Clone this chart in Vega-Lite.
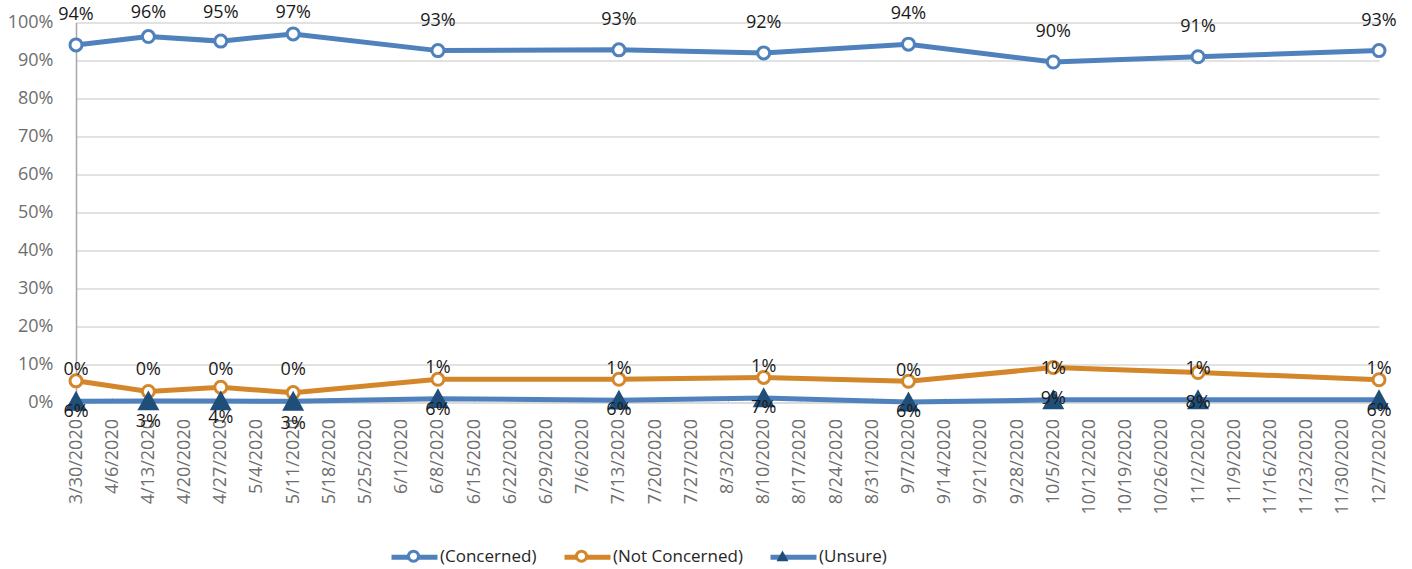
{
  "$schema": "https://vega.github.io/schema/vega-lite/v6.json",
  "width": 1303,
  "height": 380,
  "autosize": {"type": "none"},
  "padding": {"left": 76, "top": 22.5, "right": 33, "bottom": 166.5},
  "config": {
    "font": "Open Sans",
    "view": {"stroke": null}
  },
  "data": {
    "values": [
      {"date": "3/30/2020", "series": "Concerned", "value": 0.941},
      {"date": "4/13/2020", "series": "Concerned", "value": 0.963},
      {"date": "4/27/2020", "series": "Concerned", "value": 0.951},
      {"date": "5/11/2020", "series": "Concerned", "value": 0.970},
      {"date": "6/8/2020", "series": "Concerned", "value": 0.926},
      {"date": "7/13/2020", "series": "Concerned", "value": 0.928},
      {"date": "8/10/2020", "series": "Concerned", "value": 0.920},
      {"date": "9/7/2020", "series": "Concerned", "value": 0.943},
      {"date": "10/5/2020", "series": "Concerned", "value": 0.896},
      {"date": "11/2/2020", "series": "Concerned", "value": 0.910},
      {"date": "12/7/2020", "series": "Concerned", "value": 0.926},
      {"date": "3/30/2020", "series": "Not Concerned", "value": 0.057},
      {"date": "4/13/2020", "series": "Not Concerned", "value": 0.029},
      {"date": "4/27/2020", "series": "Not Concerned", "value": 0.040},
      {"date": "5/11/2020", "series": "Not Concerned", "value": 0.026},
      {"date": "6/8/2020", "series": "Not Concerned", "value": 0.061},
      {"date": "7/13/2020", "series": "Not Concerned", "value": 0.061},
      {"date": "8/10/2020", "series": "Not Concerned", "value": 0.066},
      {"date": "9/7/2020", "series": "Not Concerned", "value": 0.056},
      {"date": "10/5/2020", "series": "Not Concerned", "value": 0.092},
      {"date": "11/2/2020", "series": "Not Concerned", "value": 0.079},
      {"date": "12/7/2020", "series": "Not Concerned", "value": 0.060},
      {"date": "3/30/2020", "series": "Unsure", "value": 0.003},
      {"date": "4/13/2020", "series": "Unsure", "value": 0.004},
      {"date": "4/27/2020", "series": "Unsure", "value": 0.004},
      {"date": "5/11/2020", "series": "Unsure", "value": 0.003},
      {"date": "6/8/2020", "series": "Unsure", "value": 0.010},
      {"date": "7/13/2020", "series": "Unsure", "value": 0.006},
      {"date": "8/10/2020", "series": "Unsure", "value": 0.012},
      {"date": "9/7/2020", "series": "Unsure", "value": 0.001},
      {"date": "10/5/2020", "series": "Unsure", "value": 0.007},
      {"date": "11/2/2020", "series": "Unsure", "value": 0.007},
      {"date": "12/7/2020", "series": "Unsure", "value": 0.007}
    ]
  },
  "encoding": {
    "x": {
      "field": "date",
      "type": "nominal",
      "sort": ["3/30/2020","4/6/2020","4/13/2020","4/20/2020","4/27/2020","5/4/2020","5/11/2020","5/18/2020","5/25/2020","6/1/2020","6/8/2020","6/15/2020","6/22/2020","6/29/2020","7/6/2020","7/13/2020","7/20/2020","7/27/2020","8/3/2020","8/10/2020","8/17/2020","8/24/2020","8/31/2020","9/7/2020","9/14/2020","9/21/2020","9/28/2020","10/5/2020","10/12/2020","10/19/2020","10/26/2020","11/2/2020","11/9/2020","11/16/2020","11/23/2020","11/30/2020","12/7/2020"],
      "scale": {
        "type": "point",
        "padding": 0,
        "domain": ["3/30/2020","4/6/2020","4/13/2020","4/20/2020","4/27/2020","5/4/2020","5/11/2020","5/18/2020","5/25/2020","6/1/2020","6/8/2020","6/15/2020","6/22/2020","6/29/2020","7/6/2020","7/13/2020","7/20/2020","7/27/2020","8/3/2020","8/10/2020","8/17/2020","8/24/2020","8/31/2020","9/7/2020","9/14/2020","9/21/2020","9/28/2020","10/5/2020","10/12/2020","10/19/2020","10/26/2020","11/2/2020","11/9/2020","11/16/2020","11/23/2020","11/30/2020","12/7/2020"]
      },
      "axis": {
        "title": null,
        "labelAngle": 270,
        "labelFontSize": 18,
        "labelFont": "Open Sans",
        "labelColor": "#6E6E6E",
        "labelOverlap": false,
        "labelBound": false,
        "tickColor": "#D0D0D0",
        "tickSize": -5,
        "tickWidth": 1,
        "labelPadding": 21,
        "domainColor": "#D9D9D9",
        "domainWidth": 1.5,
        "grid": false
      }
    },
    "y": {
      "field": "value",
      "type": "quantitative",
      "scale": {"domain": [0, 1]},
      "axis": {
        "title": null,
        "format": ".0%",
        "values": [0, 0.1, 0.2, 0.3, 0.4, 0.5, 0.6, 0.7, 0.8, 0.9, 1],
        "grid": true,
        "gridColor": "#D9D9D9",
        "gridWidth": 1.5,
        "ticks": false,
        "labelPadding": 23,
        "labelFontSize": 18,
        "labelFont": "Open Sans",
        "labelColor": "#6E6E6E",
        "domainColor": "#A6A6A6",
        "domainWidth": 1.5
      }
    }
  },
  "layer": [
    {
      "mark": {"type": "line", "strokeWidth": 5},
      "encoding": {
        "color": {
          "field": "series",
          "type": "nominal",
          "scale": {"domain": ["Concerned", "Not Concerned", "Unsure"], "range": ["#4F81BD", "#D4862A", "#4F81BD"]},
          "legend": {
            "orient": "none", "legendX": 313, "legendY": 509, "direction": "horizontal",
            "title": null, "padding": 0, "symbolSize": 2116, "symbolStrokeWidth": 5, "symbolOpacity": 1,
            "symbolType": "M-1,0H1",
            "labelFontSize": 17, "labelFont": "Open Sans", "labelColor": "#262626", "labelOffset": 0, "columnPadding": 17,
            "labelExpr": "'(' + datum.label + ')'"
          }
        }
      }
    },
    {
      "transform": [{"filter": "datum.series !== 'Unsure'"}],
      "mark": {"type": "point", "strokeWidth": 3, "size": 2975, "opacity": 1},
      "encoding": {
        "fill": {
          "field": "series", "type": "nominal",
          "scale": {"range": ["white", "white", "#1F4E79"]},
          "legend": {
            "orient": "none", "legendX": 313, "legendY": 509, "direction": "horizontal",
            "title": null, "padding": 0, "symbolSize": 2116, "symbolStrokeWidth": 3, "symbolOpacity": 1,
            "labelFontSize": 17, "labelFont": "Open Sans", "labelColor": "transparent", "labelOffset": 0, "columnPadding": 17,
            "labelExpr": "'(' + datum.label + ')'"
          }
        },
        "stroke": {
          "field": "series", "type": "nominal",
          "scale": {"range": ["#4F81BD", "#D4862A", "transparent"]},
          "legend": {
            "orient": "none", "legendX": 313, "legendY": 509, "direction": "horizontal",
            "title": null, "padding": 0, "symbolSize": 2116, "symbolStrokeWidth": 3, "symbolOpacity": 1,
            "labelFontSize": 17, "labelFont": "Open Sans", "labelColor": "transparent", "labelOffset": 0, "columnPadding": 17,
            "labelExpr": "'(' + datum.label + ')'"
          }
        },
        "shape": {
          "field": "series", "type": "nominal",
          "scale": {"range": ["M-1,0M0.22,0A0.22,0.22,0,1,1,-0.22,0A0.22,0.22,0,1,1,0.22,0ZM1,0", "M-1,0M0.22,0A0.22,0.22,0,1,1,-0.22,0A0.22,0.22,0,1,1,0.22,0ZM1,0", "M-1,0M0,-0.25L0.26,0.22L-0.26,0.22ZM1,0"]},
          "legend": {
            "orient": "none", "legendX": 313, "legendY": 509, "direction": "horizontal",
            "title": null, "padding": 0, "symbolSize": 2116, "symbolStrokeWidth": 3, "symbolOpacity": 1,
            "labelFontSize": 17, "labelFont": "Open Sans", "labelColor": "transparent", "labelOffset": 0, "columnPadding": 17,
            "labelExpr": "'(' + datum.label + ')'"
          }
        }
      }
    },
    {
      "transform": [{"filter": "datum.series === 'Unsure'"}],
      "mark": {"type": "point", "strokeWidth": 3, "size": 7157, "opacity": 1},
      "encoding": {
        "fill": {
          "field": "series", "type": "nominal",
          "scale": {"range": ["white", "white", "#1F4E79"]},
          "legend": {
            "orient": "none", "legendX": 313, "legendY": 509, "direction": "horizontal",
            "title": null, "padding": 0, "symbolSize": 2116, "symbolStrokeWidth": 3, "symbolOpacity": 1,
            "labelFontSize": 17, "labelFont": "Open Sans", "labelColor": "transparent", "labelOffset": 0, "columnPadding": 17,
            "labelExpr": "'(' + datum.label + ')'"
          }
        },
        "stroke": {
          "field": "series", "type": "nominal",
          "scale": {"range": ["#4F81BD", "#D4862A", "transparent"]},
          "legend": {
            "orient": "none", "legendX": 313, "legendY": 509, "direction": "horizontal",
            "title": null, "padding": 0, "symbolSize": 2116, "symbolStrokeWidth": 3, "symbolOpacity": 1,
            "labelFontSize": 17, "labelFont": "Open Sans", "labelColor": "transparent", "labelOffset": 0, "columnPadding": 17,
            "labelExpr": "'(' + datum.label + ')'"
          }
        },
        "shape": {
          "field": "series", "type": "nominal",
          "scale": {"range": ["M-1,0M0.22,0A0.22,0.22,0,1,1,-0.22,0A0.22,0.22,0,1,1,0.22,0ZM1,0", "M-1,0M0.22,0A0.22,0.22,0,1,1,-0.22,0A0.22,0.22,0,1,1,0.22,0ZM1,0", "M-1,0M0,-0.25L0.26,0.22L-0.26,0.22ZM1,0"]},
          "legend": {
            "orient": "none", "legendX": 313, "legendY": 509, "direction": "horizontal",
            "title": null, "padding": 0, "symbolSize": 2116, "symbolStrokeWidth": 3, "symbolOpacity": 1,
            "labelFontSize": 17, "labelFont": "Open Sans", "labelColor": "transparent", "labelOffset": 0, "columnPadding": 17,
            "labelExpr": "'(' + datum.label + ')'"
          }
        }
      }
    },
    {
      "transform": [{"filter": "datum.series === 'Concerned'"}],
      "mark": {"type": "text", "fontSize": 18, "font": "Open Sans", "color": "#1A1A1A", "dy": {"expr": "max(-30, -10 - scale('y', datum.value))"}},
      "encoding": {"text": {"field": "value", "type": "quantitative", "format": ".0%"}}
    },
    {
      "transform": [{"filter": "datum.series === 'Not Concerned'"}],
      "mark": {"type": "text", "fontSize": 18, "font": "Open Sans", "color": "#1A1A1A", "dy": 31},
      "encoding": {"text": {"field": "value", "type": "quantitative", "format": ".0%"}}
    },
    {
      "transform": [{"filter": "datum.series === 'Unsure'"}],
      "mark": {"type": "text", "fontSize": 18, "font": "Open Sans", "color": "#1A1A1A", "dy": -31},
      "encoding": {"text": {"field": "value", "type": "quantitative", "format": ".0%"}}
    }
  ]
}
